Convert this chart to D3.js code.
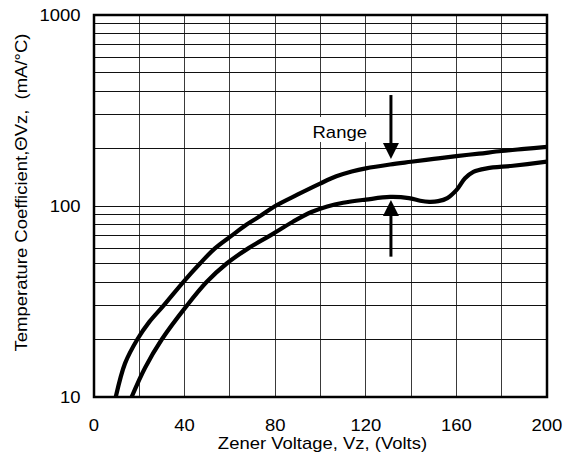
<!DOCTYPE html>
<html>
<head>
<meta charset="utf-8">
<script src="https://cdn.jsdelivr.net/npm/d3@7"></script>
<style>
  html, body { margin: 0; padding: 0; background: #fff; }
  svg { display: block; }
  text { font-family: "Liberation Sans", Arial, Helvetica, sans-serif; fill: #000; white-space: pre; }
</style>
</head>
<body>
<svg id="chart" width="568" height="460"></svg>
<script>
// ---- data ----
const xTickLabels = [0, 40, 80, 120, 160, 200];
const xGridValues = [20, 40, 60, 80, 100, 120, 140, 160, 180];
const yTickLabels = [10, 100, 1000];
const yGridValues = [20, 30, 40, 50, 60, 70, 80, 90, 100, 200, 300, 400, 500, 600, 700, 800, 900];

const upperV = [9.6, 13.7, 19.1, 24.5, 30.6, 39.4, 46.8, 53.4, 60.8, 67.4, 73, 80, 90, 99.8, 107, 113.8, 120, 130.7, 140, 150, 160, 170, 180, 190, 200];
const upperT = [10, 15, 20, 24.8, 30, 40, 50, 60, 70, 80, 88, 100, 115, 131, 143, 151.5, 157.5, 165, 170.5, 176.5, 182.5, 188, 194, 199, 204];

const lowerV = [16.6, 22.5, 29.9, 40.9, 49.7, 58.6, 68.1, 77.7, 88, 96, 103, 110, 120, 130.7, 139, 144, 148, 152, 156, 160, 163.8, 167.5, 173.4, 185, 200];
const lowerT = [10, 14.2, 20, 30, 40, 50, 60, 70, 83, 93, 99.5, 104, 108, 111.5, 110, 106.5, 105.2, 106, 110, 121, 139.7, 151, 157.4, 162.5, 170.6];

const rangeLabel = "Range";
const xTitle = "Zener Voltage, Vz, (Volts)";
const yTitle = "Temperature Coefficient,\u0398Vz,  (mA/\u00B0C)";

// annotation arrows (volts, start value, tip value)
const arrows = [
  { v: 131.1, from: 381, to: 176 },
  { v: 131.1, from: 54.3, to: 107.5 }
];

// ---- layout ----
const svg = d3.select("#chart");
const L = 94, R = 547, T = 15, B = 397;
const x = d3.scaleLinear().domain([0, 200]).range([L, R]);
const y = d3.scaleLog().domain([10, 1000]).range([B, T]);
const STRETCH = 1.14;
const FS = 16.2;

function stretch(sel) {
  sel.each(function () {
    const w = this.getComputedTextLength();
    this.setAttribute("textLength", w * STRETCH);
    this.setAttribute("lengthAdjust", "spacingAndGlyphs");
  });
}

// grid
const grid = svg.append("g").attr("shape-rendering", "crispEdges");
grid.selectAll("line.v").data(xGridValues).join("line")
  .attr("x1", d => x(d)).attr("x2", d => x(d))
  .attr("y1", T).attr("y2", B)
  .attr("stroke", "#3a3a3a").attr("stroke-width", 1);
grid.selectAll("line.h").data(yGridValues).join("line")
  .attr("x1", L).attr("x2", R)
  .attr("y1", d => y(d)).attr("y2", d => y(d))
  .attr("stroke", "#111").attr("stroke-width", 1);

// range label with white background
const rangeX = 108.5, rangeY = 228;
svg.append("rect")
  .attr("x", 312).attr("y", 117).attr("width", 58).attr("height", 25)
  .attr("fill", "#fff");
svg.append("text")
  .attr("x", x(rangeX)).attr("y", y(rangeY))
  .attr("text-anchor", "middle").attr("font-size", FS)
  .text(rangeLabel).call(stretch);

// curves
svg.append("clipPath").attr("id", "clip")
  .append("rect").attr("x", L).attr("y", T).attr("width", R - L).attr("height", B - T);
const line = d3.line().x(d => x(d[0])).y(d => y(d[1])).curve(d3.curveCatmullRom.alpha(0.5));
const curves = [d3.zip(upperV, upperT), d3.zip(lowerV, lowerT)];
svg.append("g").attr("clip-path", "url(#clip)")
  .selectAll("path").data(curves).join("path")
  .attr("d", line)
  .attr("fill", "none").attr("stroke", "#000").attr("stroke-width", 4.2)
  .attr("stroke-linejoin", "round");

// arrows
const ag = svg.append("g");
arrows.forEach(a => {
  const x0 = x(a.v), y0 = y(a.from), y1 = y(a.to);
  const dir = Math.sign(y1 - y0);
  const headLen = 16, headW = 8;
  ag.append("line")
    .attr("x1", x0).attr("x2", x0)
    .attr("y1", y0).attr("y2", y1 - dir * headLen + dir * 1)
    .attr("stroke", "#000").attr("stroke-width", 3);
  ag.append("path")
    .attr("d", `M${x0},${y1} L${x0 - headW},${y1 - dir * headLen} L${x0 + headW},${y1 - dir * headLen} Z`)
    .attr("fill", "#000");
});

// frame
svg.append("rect")
  .attr("x", L).attr("y", T).attr("width", R - L).attr("height", B - T)
  .attr("fill", "none").attr("stroke", "#000").attr("stroke-width", 2.5);

// tick labels
svg.selectAll("text.xt").data(xTickLabels).join("text")
  .attr("class", "xt")
  .attr("x", d => x(d)).attr("y", 430.5)
  .attr("text-anchor", "middle").attr("font-size", FS)
  .text(d => d).call(stretch);
svg.selectAll("text.yt").data(yTickLabels).join("text")
  .attr("class", "yt")
  .attr("x", 80.5).attr("y", d => y(d) + 5.9)
  .attr("text-anchor", "end").attr("font-size", FS)
  .text(d => d).call(stretch);

// titles
svg.append("text")
  .attr("x", 322.5).attr("y", 449)
  .attr("text-anchor", "middle").attr("font-size", FS)
  .text(xTitle).call(stretch);
svg.append("text")
  .attr("transform", "translate(26.5,192.5) rotate(-90)")
  .attr("text-anchor", "middle").attr("font-size", FS)
  .text(yTitle).call(stretch);
</script>
</body>
</html>
